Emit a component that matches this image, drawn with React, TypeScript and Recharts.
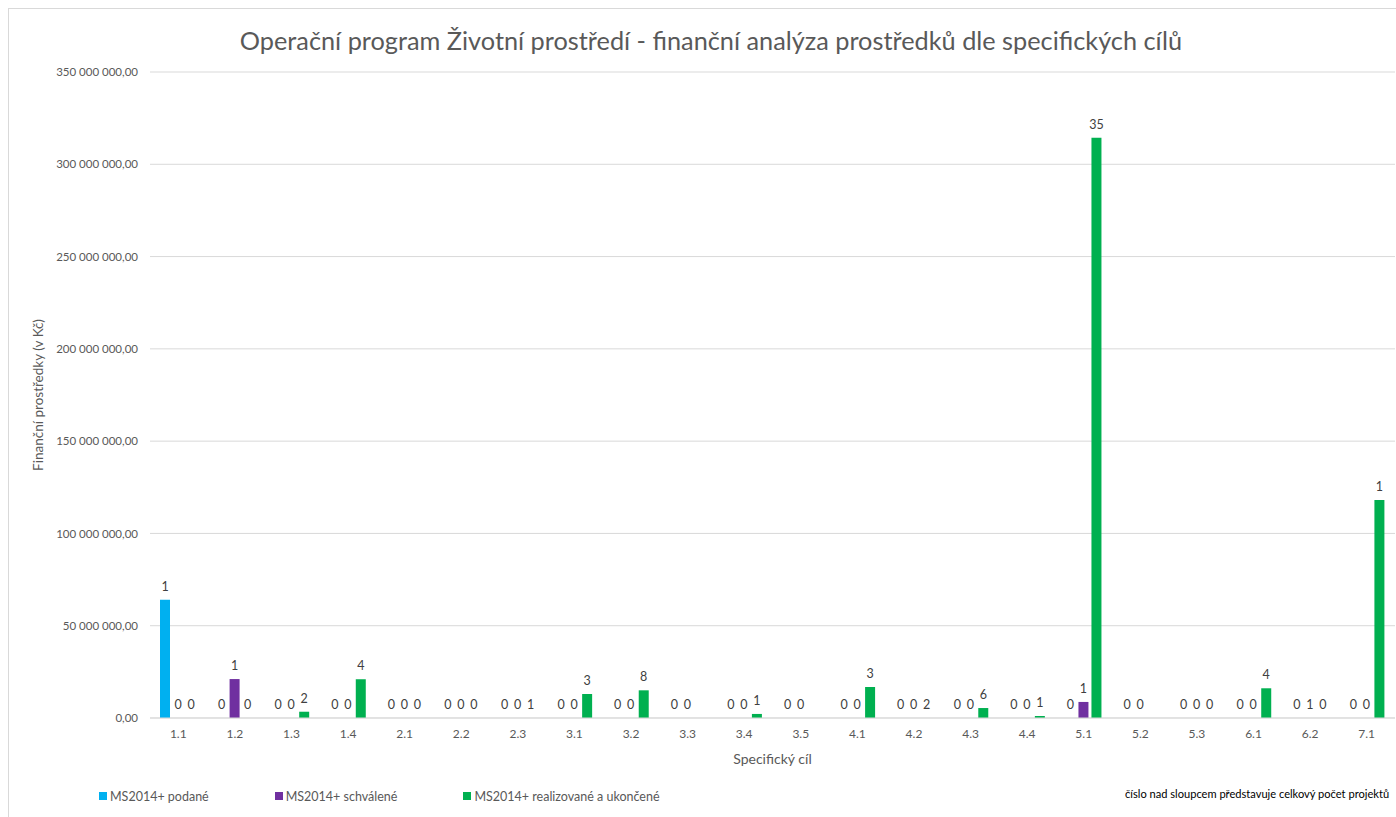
import React from 'react';
import { BarChart, Bar, XAxis, YAxis, CartesianGrid, Legend, LabelList } from 'recharts';

const categories = ['1.1', '1.2', '1.3', '1.4', '2.1', '2.2', '2.3', '3.1', '3.2', '3.3', '3.4', '3.5', '4.1', '4.2', '4.3', '4.4', '5.1', '5.2', '5.3', '6.1', '6.2', '7.1'];

// Financial amounts (CZK)
const podaneValues = [64000000, 0, 0, 0, 0, 0, 0, 0, 0, 0, 0, 0, 0, 0, 0, 0, 0, 0, 0, 0, 0, 0];
const schvaleneValues = [0, 21100000, 0, 0, 0, 0, 0, 0, 0, 0, 0, 0, 0, 0, 0, 0, 8700000, 0, 0, 0, 0, 0];
const realizovaneValues = [0, 0, 3400000, 21000000, 0, 0, 0, 13000000, 15000000, 0, 2200000, 0, 16800000, 0, 5400000, 1100000, 314400000, 0, 0, 16100000, 0, 118100000];

// Project counts shown above the bars (null = no label)
const podaneCounts = [1, 0, 0, 0, 0, 0, 0, 0, 0, 0, 0, 0, 0, 0, 0, 0, 0, 0, 0, 0, 0, 0];
const schvaleneCounts = [0, 1, 0, 0, 0, 0, 0, 0, 0, 0, 0, 0, 0, 0, 0, 0, 1, 0, 0, 0, 1, 0];
const realizovaneCounts: (number | null)[] = [0, 0, 2, 4, 0, 0, 1, 3, 8, null, 1, null, 3, 2, 6, 1, 35, null, 0, 4, 0, 1];

const yTicks = [0, 50000000, 100000000, 150000000, 200000000, 250000000, 300000000, 350000000];

const seriesNames = ['MS2014+ podané', 'MS2014+ schválené', 'MS2014+ realizované a ukončené'];
const seriesColors = ['#00B0F0', '#7030A0', '#00B050'];

const titleText = 'Operační program Životní prostředí - finanční analýza prostředků dle specifických cílů';
const yAxisTitle = 'Finanční prostředky (v Kč)';
const xAxisTitle = 'Specifický cíl';
const noteText = 'číslo nad sloupcem představuje celkový počet projektů';

const data = categories.map((c, i) => ({
  cat: c,
  podane: podaneValues[i],
  schvalene: schvaleneValues[i],
  realizovane: realizovaneValues[i],
  podaneCount: podaneCounts[i],
  schvaleneCount: schvaleneCounts[i],
  realizovaneCount: realizovaneCounts[i],
}));

const fmt = (v: number) => Math.round(v).toString().replace(/\B(?=(\d{3})+(?!\d))/g, ' ') + ',00';

const countLabel = (props: any) => {
  const vb = props.viewBox || {};
  const x = vb.x ?? props.x;
  const y = vb.y ?? props.y;
  const w = vb.width ?? props.width;
  const c = props.value;
  if (c == null || x == null) return null;
  return (
    <text x={x + w / 2} y={y - 9} textAnchor="middle" fontSize={12.5} fill="#404040">
      {c}
    </text>
  );
};

// zero-valued bars keep an invisible rectangle so their count label is still placed
const tinyMin = (value: any) => (value === 0 ? 0.001 : 0);

const renderLegend = () => (
  <div style={{ position: 'relative', height: 18, width: 1387, fontSize: 12.5, color: '#595959' }}>
    <div style={{ display: 'flex', alignItems: 'center', paddingLeft: 90, height: 18 }}>
      {seriesNames.map((n, i) => (
        <div key={n} style={{ display: 'flex', alignItems: 'center', marginRight: 66 }}>
          <span style={{ display: 'inline-block', width: 8, height: 8, background: seriesColors[i], marginRight: 3 }} />
          <span>{n}</span>
        </div>
      ))}
    </div>
    <div style={{ position: 'absolute', left: 1116, top: 0, whiteSpace: 'nowrap', fontSize: 11.1, color: '#000' }}>
      {noteText}
    </div>
  </div>
);

export default function App() {
  return (
    <div style={{ position: 'fixed', left: 0, top: 0, width: 1396, height: 817, overflow: 'hidden', background: '#fff' }}>
      <div
        style={{
          position: 'absolute',
          left: 8,
          top: 8,
          width: 1400,
          height: 830,
          borderLeft: '1px solid #d9d9d9',
          borderTop: '1px solid #d9d9d9',
          fontFamily: 'Lato, sans-serif',
        }}
      >
        <BarChart
          width={1387}
          height={808}
          data={data}
          margin={{ top: 63, right: 1, left: 0, bottom: 49 }}
          barSize={10}
          barGap={3}
        >
          <text x={702} y={31} textAnchor="middle" dominantBaseline="central" fontSize={25.3} fill="#595959">
            {titleText}
          </text>
          <CartesianGrid vertical={false} stroke="#d9d9d9" />
          <XAxis
            dataKey="cat"
            interval={0}
            height={50}
            tickLine={false}
            tickSize={8}
            tickMargin={3}
            axisLine={{ stroke: '#d9d9d9' }}
            tick={{ fill: '#595959', fontSize: 12 }}
            label={{
              content: (p: any) => {
                const vb = p.viewBox || {};
                return (
                  <text x={vb.x + vb.width / 2} y={vb.y + 40} textAnchor="middle" dominantBaseline="central" fontSize={14} fill="#595959">
                    {xAxisTitle}
                  </text>
                );
              },
            }}
          />
          <YAxis
            width={141}
            domain={[0, 350000000]}
            ticks={yTicks}
            tickFormatter={fmt}
            axisLine={false}
            tickLine={false}
            tickSize={8}
            tickMargin={4}
            tick={{ fill: '#595959', fontSize: 11.5 }}
            label={{
              content: (p: any) => {
                const vb = p.viewBox || {};
                const cx = 29;
                const cy = vb.y + vb.height / 2;
                return (
                  <text x={cx} y={cy} textAnchor="middle" dominantBaseline="central" fontSize={13.5} fill="#595959" transform={`rotate(-90 ${cx} ${cy})`}>
                    {yAxisTitle}
                  </text>
                );
              },
            }}
          />
          <Legend
            layout="horizontal"
            verticalAlign="middle"
            content={renderLegend}
            wrapperStyle={{ top: 778, left: 0, width: 1387 }}
          />
          <Bar dataKey="podane" name={seriesNames[0]} fill={seriesColors[0]} minPointSize={tinyMin} isAnimationActive={false}>
            <LabelList dataKey="podaneCount" content={countLabel} />
          </Bar>
          <Bar dataKey="schvalene" name={seriesNames[1]} fill={seriesColors[1]} minPointSize={tinyMin} isAnimationActive={false}>
            <LabelList dataKey="schvaleneCount" content={countLabel} />
          </Bar>
          <Bar dataKey="realizovane" name={seriesNames[2]} fill={seriesColors[2]} minPointSize={tinyMin} isAnimationActive={false}>
            <LabelList dataKey="realizovaneCount" content={countLabel} />
          </Bar>
        </BarChart>
      </div>
    </div>
  );
}
